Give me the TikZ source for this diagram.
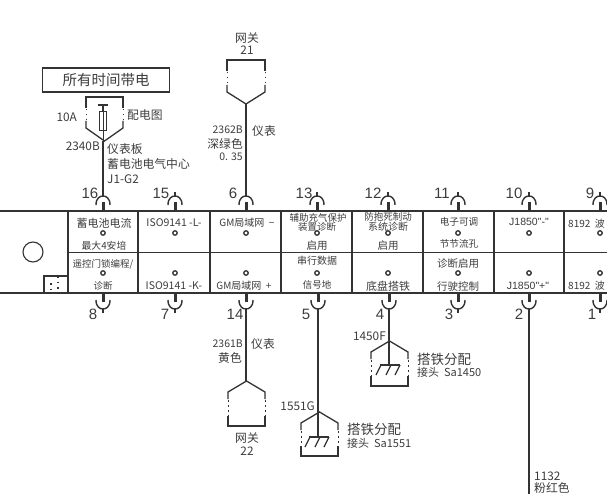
\documentclass[tikz,border=0pt]{standalone}
\usepackage{fontspec}
\setmainfont{Noto Sans CJK SC}
\newfontfamily\latinf{Liberation Sans}
\definecolor{ink}{HTML}{333333}
\definecolor{txt}{HTML}{3C3C3C}
\newcommand{\fz}[1]{\fontsize{#1}{#1}\selectfont}
\tikzset{
  wire/.style={draw=ink,line width=1.4pt},
  frame/.style={draw=ink,line width=1.3pt},
  lab/.style={inner sep=0pt,text=txt,font=\fz{11.8},align=center},
  pinno/.style={lab,font=\latinf\fz{15}},
  socket/.style={circle,draw=ink,line width=1.3pt,minimum size=4.5pt,inner sep=0pt,fill=white},
  dotted side/.style={draw=ink,line width=1pt,dash pattern=on 1.5pt off 3.5pt},
}
\newcommand{\toppin}[2]{%
  \coordinate (#2) at (#1,196);
  \draw[ink,line width=3pt] (#1,202) -- (#1,211);
  \draw[ink,line width=1.4pt] (#1-7,205) .. controls (#1-7,198) and (#1-3,196) .. (#1,196) .. controls (#1+3,196) and (#1+7,198) .. (#1+7,205);
}
\newcommand{\botpin}[2]{%
  \coordinate (#2) at (#1,309);
  \draw[ink,line width=3pt] (#1,293) -- (#1,302);
  \draw[ink,line width=1.4pt] (#1-7,300) .. controls (#1-7,307) and (#1-3,309) .. (#1,309) .. controls (#1+3,309) and (#1+7,307) .. (#1+7,300);
}
\newcommand{\housedown}[5]{% left right top shoulder tip
  \draw[frame,line join=miter] ({#1},{#3+11}) -- ({#1},{#3}) -- ({#2},{#3}) -- ({#2},{#3+11});
  \draw[dotted side] ({#1},{#3+12}) -- ({#1},{#4-7});
  \draw[dotted side] ({#2},{#3+12}) -- ({#2},{#4-7});
  \draw[frame] ({#1},{#4-7}) -- ({#1},{#4}) -- ({(#1+#2)/2},{#5}) -- ({#2},{#4}) -- ({#2},{#4-7});
}
\newcommand{\houseup}[5]{% left right tip shoulder bottom
  \draw[frame] ({#1},{#4+7}) -- ({#1},{#4}) -- ({(#1+#2)/2},{#3}) -- ({#2},{#4}) -- ({#2},{#4+7});
  \draw[dotted side] ({#1},{#4+8}) -- ({#1},{#5-10});
  \draw[dotted side] ({#2},{#4+8}) -- ({#2},{#5-10});
  \draw[frame] ({#1},{#5-10}) -- ({#1},{#5}) -- ({#2},{#5}) -- ({#2},{#5-10});
}
\newcommand{\gndsym}[2]{% x y
  \draw[ink,line width=1.2pt] ({#1-9},{#2}) -- ({#1+11},{#2});
  \draw[ink,line width=1.2pt] ({#1-8},{#2}) -- ({#1-13},{#2+10});
  \draw[ink,line width=1.2pt] ({#1+2},{#2}) -- ({#1-3},{#2+10});
  \draw[ink,line width=1.2pt] ({#1+11},{#2}) -- ({#1+6},{#2+10});
}
\begin{document}
\begin{tikzpicture}[x=1pt,y=-1pt]
\useasboundingbox (0,0) rectangle (607,494);
\clip (0,0) rectangle (607,494);
% header box
\node[draw=ink,line width=1.6pt,minimum width=127pt,minimum height=24pt,inner sep=0pt,text=txt,font=\fz{14.5}] (always) at (106,80) {所有时间带电};
% fuse block
\housedown{86}{123}{97}{128}{141}
\draw[ink,line width=1.1pt] (98,105) -- (108,105);
\draw[ink,line width=1.1pt] (103,105) -- (103,112);
\node[draw=ink,line width=1pt,minimum width=7pt,minimum height=19pt,inner sep=0pt] (fuse) at (103,121.5) {};
\draw[ink,line width=1pt] (103,112) -- (103,131);
\coordinate (fusetip) at (103,141);
\draw[ink,line width=1pt] (fuse.south) -- (fusetip);
\node[lab,anchor=east] (amps) at (77,117) {10A};
\node[lab,anchor=west] (pd) at (127,115) {配电图};
\node[lab,anchor=east] (w2340) at (100,146) {2340B};
\node[lab,anchor=west] (ipc) at (107,149) {仪表板};
\node[lab,anchor=west] (bat) at (107,164) {蓄电池电气中心};
\node[lab,anchor=west] (j1) at (107,179) {J1-G2};
% gateway 21
\node[lab] (g21a) at (247,38) {网关};
\node[lab] (g21b) at (247,50) {21};
\housedown{227}{265}{60}{92}{104}
\coordinate (gw21tip) at (246,104);
\node[lab,anchor=east,font=\fz{10.5}] (w2362) at (243,130) {2362B};
\node[lab,anchor=west] (ip1) at (252,131) {仪表};
\node[lab,anchor=east] (c2362) at (243,144) {深绿色};
\node[lab,anchor=east,font=\fz{10.5}] (s2362) at (243,157) {0. 35};
% connector body
\draw[frame] (0,211) -- (607,211);
\draw[frame] (68,252.5) -- (607,252.5);
\draw[frame] (0,293) -- (607,293);
\foreach \x in {68,138,210,281,352,423,494,564}{\draw[frame,line width=1.1pt] (\x,211) -- (\x,293);}
\node[circle,draw=ink,line width=1.1pt,minimum size=20pt,inner sep=0pt] (keyhole) at (33,252) {};
\draw[frame,line width=1.1pt] (44,293) -- (44,276) -- (68,276);
\draw[ink,line width=1.1pt,dash pattern=on 1.5pt off 4pt] (51,283) -- (51,293);
\draw[ink,line width=1.1pt,dash pattern=on 1.5pt off 4pt] (58,276) -- (58,293);
% pins
\toppin{103}{p16}\toppin{175}{p15}\toppin{246}{p6}\toppin{317}{p13}\toppin{388}{p12}\toppin{458}{p11}\toppin{529}{p10}\toppin{600}{p9}
\botpin{103}{p8}\botpin{175}{p7}\botpin{246}{p14}\botpin{318}{p5}\botpin{389}{p4}\botpin{458}{p3}\botpin{529}{p2}\botpin{600}{p1}
% pin stubs and wires
\foreach \a in {p15,p11,p10,p13,p12,p9}{\draw[wire,line width=1.1pt] (\a) -- ++(0,-4);}
\foreach \a in {p8,p7,p3,p1}{\draw[wire,line width=1.1pt] (\a) -- ++(0,4);}
\draw[wire] (fusetip) -- (p16);
\draw[wire] (gw21tip) -- (p6);
% pin numbers
\foreach \t/\x/\n in {16/90/n16,15/161/n15,6/233/n6,13/304/n13,12/373/n12,11/442/n11,10/514/n10,9/590/n9}{
  \node[pinno] (\n) at (\x,193) {\t};}
\foreach \t/\x/\n in {8/93/n8,7/165/n7,14/235/n14,5/306/n5,4/380/n4,3/449/n3,2/519/n2,1/592/n1}{
  \node[pinno] (\n) at (\x,314) {\t};}
% sockets
\foreach \x in {103,175,246,317,388,458,529,600}{
  \node[socket] at (\x,233) {};
  \node[socket] at (\x,273) {};}
% cell text
\node[lab,font=\fz{11}] (c1) at (104,223) {蓄电池电流};
\node[lab,font=\fz{9.8}] (c2) at (104,246) {最大4安培};
\node[lab,font=\fz{9.5}] (c3) at (103,264.5) {遥控门锁编程/};
\node[lab,font=\fz{9.5}] (c4) at (103,286) {诊断};
\node[lab,font=\fz{10.5}] (c5) at (174,223) {ISO9141 -L-};
\node[lab,font=\fz{10.5}] (c6) at (174,286) {ISO9141 -K-};
\node[lab,font=\fz{10}] (c7) at (247,223) {GM局域网 \ −};
\node[lab,font=\fz{10}] (c8) at (244,286) {GM局域网 \ +};
\node[lab,font=\fz{9.5}] (c9) at (318,218) {辅助充气保护};
\node[lab,font=\fz{9.5}] (c10) at (317,227) {装置诊断};
\node[lab,font=\fz{10.5}] (c11) at (317,246) {启用};
\node[lab,font=\fz{10}] (c12) at (317,261) {串行数据};
\node[lab,font=\fz{9.5}] (c13) at (317,285) {信号地};
\node[lab,font=\fz{9.5}] (c14) at (388,217) {防抱死制动};
\node[lab,font=\fz{10}] (c15) at (388,227) {系统诊断};
\node[lab,font=\fz{10.5}] (c16) at (388,246) {启用};
\node[lab,font=\fz{11}] (c17) at (388,286) {底盘搭铁};
\node[lab,font=\fz{9.6}] (c18) at (459,222) {电子可调};
\node[lab,font=\fz{9.6}] (c19) at (459,244) {节节流孔};
\node[lab,font=\fz{10.5}] (c20) at (458,264) {诊断启用};
\node[lab,font=\fz{10.5}] (c21) at (458,287) {行驶控制};
\node[lab,font=\latinf\fz{10.5}] (c22) at (529,222) {J1850"-"};
\node[lab,font=\latinf\fz{10.5}] (c23) at (528,286) {J1850"+"};
\node[lab,anchor=west,font=\fz{10}] (c24) at (568,224) {8192 \ 波};
\node[lab,anchor=west,font=\fz{10}] (c25) at (568,286) {8192 \ 波};
% gateway 22
\coordinate (gw22tip) at (246,381);
\draw[wire] (p14) -- (gw22tip);
\houseup{228}{265}{381}{392}{426}
\node[lab,anchor=east,font=\fz{10.5}] (w2361) at (243,344) {2361B};
\node[lab,anchor=west] (ip2) at (251,344) {仪表};
\node[lab,anchor=east] (c2361) at (242,358) {黄色};
\node[lab] (g22a) at (247,438) {网关};
\node[lab] (g22b) at (247,451) {22};
% ground 1551
\coordinate (g1551tip) at (318,412);
\coordinate (g1551sym) at (318,437);
\draw[wire] (p5) -- (g1551tip);
\draw[wire,line width=1.1pt] (g1551tip) -- (g1551sym);
\houseup{301}{338}{412}{423}{456}
\gndsym{318}{437}
\node[lab,anchor=east] (w1551) at (315,406) {1551G};
\node[lab,anchor=west,font=\fz{13.5}] (gd1a) at (347,429) {搭铁分配};
\node[lab,anchor=west,font=\fz{11}] (gd1b) at (347,443) {接头 \ Sa1551};
% ground 1450
\coordinate (g1450tip) at (389,341);
\coordinate (g1450sym) at (389,365);
\draw[wire] (p4) -- (g1450tip);
\draw[wire,line width=1.1pt] (g1450tip) -- (g1450sym);
\houseup{371}{408}{341}{352}{386}
\gndsym{389}{365}
\node[lab,anchor=east] (w1450) at (386,336) {1450F};
\node[lab,anchor=west,font=\fz{13.5}] (gd2a) at (417,359) {搭铁分配};
\node[lab,anchor=west,font=\fz{11}] (gd2b) at (417,372) {接头 \ Sa1450};
% wire to page bottom
\coordinate (offpage) at (529,494);
\draw[wire] (p2) -- (offpage);
\node[lab,anchor=west] (w1132) at (534,476) {1132};
\node[lab,anchor=west] (c1132) at (534,488) {粉红色};
\end{tikzpicture}
\end{document}
